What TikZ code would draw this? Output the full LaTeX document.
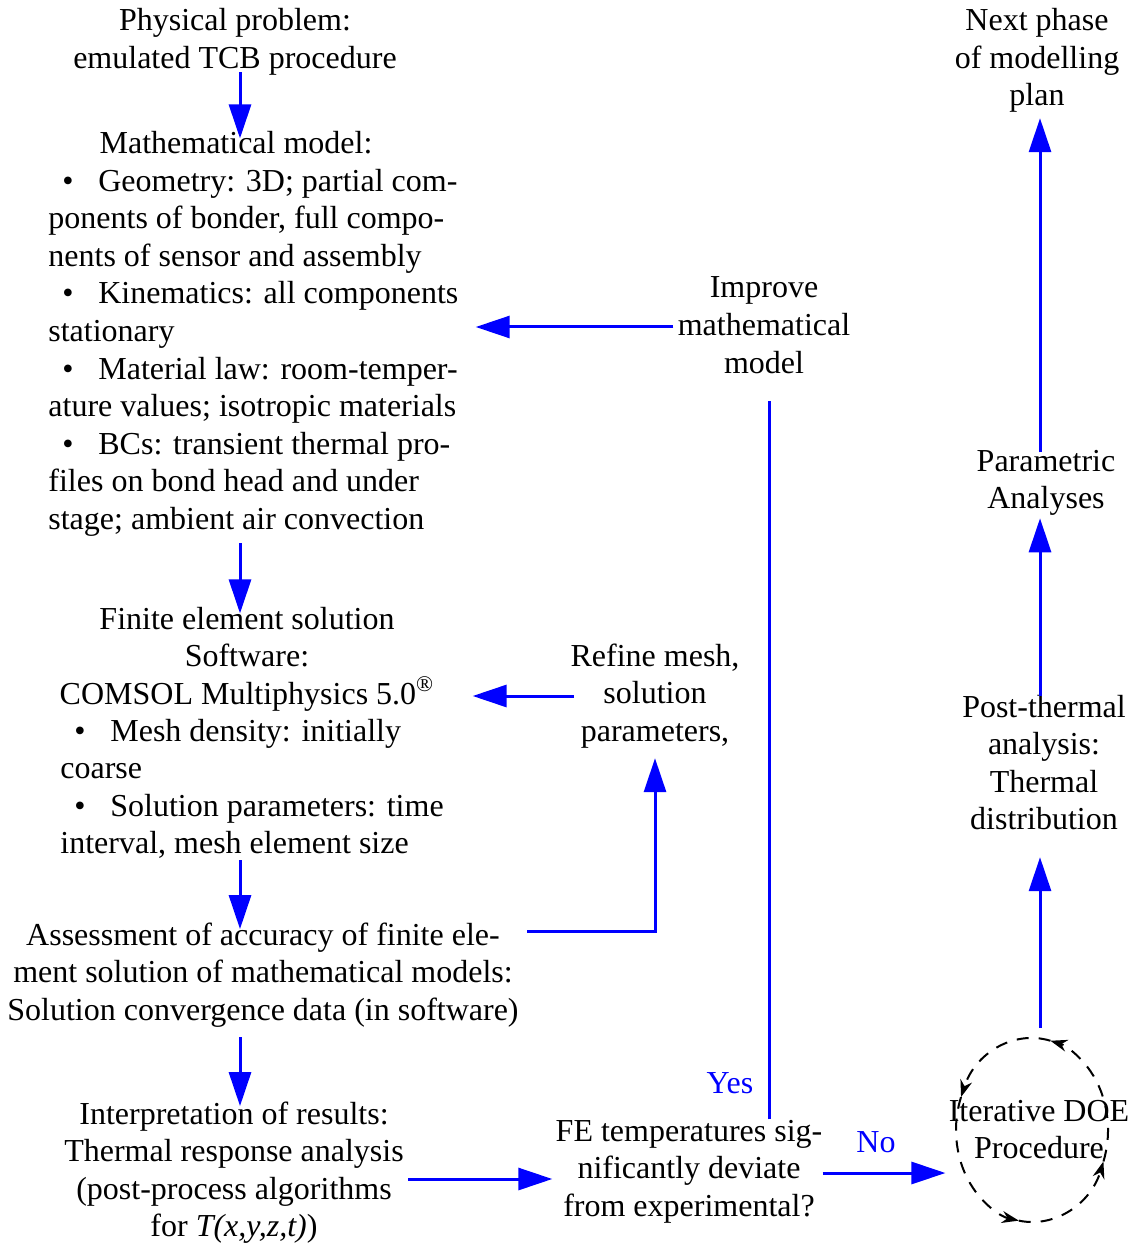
\documentclass[tikz,border=0pt]{standalone}
\usepackage{fontspec}
\setmainfont{Liberation Serif}
\usetikzlibrary{arrows.meta,shapes.geometric}
\newcommand{\bulletitem}{\makebox[25pt][l]{\hspace*{7pt}\textbullet}}

\begin{document}
\begin{tikzpicture}[x=0.5pt,y=-0.5pt,
    txt/.style={inner sep=0pt,align=center,anchor=base,
      font=\fontsize{16}{18.75}\selectfont},
    lst/.style={txt,align=left,anchor=base west},
    yn/.style={txt,text=blue},
    link/.style={draw=blue,line width=1.5pt},
    flow/.style={link,-{Triangle[length=17pt,width=11pt]}},
    cyc/.style={draw,line width=1pt,dash pattern=on 6pt off 5pt,
      -{Stealth[length=8.5pt,width=6pt]}}]
  \useasboundingbox (0,0) rectangle (1135,1245);
  \coordinate (colL) at (240,0);
  \coordinate (colY) at (769,0);
  \coordinate (colR) at (1040,0);
  \coordinate (rowB) at (0,931);
  \coordinate (rowC) at (0,696);
  \coordinate (rowD) at (0,327);
  \coordinate (rowE) at (0,1179);
  \coordinate (rowF) at (0,1173);

  \node[txt] (phys) at (235,68.5) {Physical problem:\\emulated TCB procedure};
  \node[txt] (math) at (236,154) {Mathematical model:};
  \node[lst] (mathlist) at (48,529) {\bulletitem Geometry: 3D; partial com-\\
    ponents of bonder, full compo-\\
    nents of sensor and assembly\\
    \bulletitem Kinematics: all components\\
    stationary\\
    \bulletitem Material law: room-temper-\\
    ature values; isotropic materials\\
    \bulletitem BCs: transient thermal pro-\\
    files on bond head and under\\
    stage; ambient air convection};
  \node[txt] (fehead) at (247,704) {Finite element solution\\Software:\\
    COMSOL Multiphysics 5.0\textsuperscript{\textregistered}};
  \node[lst] (felist) at (60,853.5) {\bulletitem Mesh density: initially\\
    coarse\\
    \bulletitem Solution parameters: time\\
    interval, mesh element size};
  \node[txt] (assess) at (263,1020) {Assessment of accuracy of finite ele-\\
    ment solution of mathematical models:\\
    Solution convergence data (in software)};
  \node[txt] (interp) at (234,1236.5) {Interpretation of results:\\
    Thermal response analysis\\(post-process algorithms\\
    for \textit{T(x,y,z,t)})};
  \node[txt] (fetemp) at (689,1216) {FE temperatures sig-\\
    nificantly deviate\\from experimental?};
  \node[txt] (improve) at (764,373) {Improve\\mathematical\\model};
  \node[txt] (refine) at (655,741) {Refine mesh,\\solution\\parameters,};
  \node[txt] (next) at (1037,106) {Next phase\\of modelling\\plan};
  \node[txt] (para) at (1046,508.5) {Parametric\\Analyses};
  \node[txt] (post) at (1044,829.5) {Post-thermal\\analysis:\\Thermal\\distribution};
  \node[txt] (doe) at (1039,1158.5) {Iterative DOE\\Procedure};
  \node[ellipse,minimum width=76pt,minimum height=92pt,inner sep=0pt] (loop) at (1032,1130) {};
  \node[yn] (yes) at (730,1093) {Yes};
  \node[yn] (no) at (876,1152) {No};

  \draw[flow,shorten <=-1.75pt,shorten >=-3.5pt] (phys.south -| colL) -- (math.north -| colL);
  \draw[flow,shorten <=3.5pt,shorten >=-3.5pt] (mathlist.south -| colL) -- (fehead.north -| colL);
  \draw[flow,shorten <=0.75pt,shorten >=-3.5pt] (felist.south -| colL) -- (assess.north -| colL);
  \draw[flow,shorten <=5pt,shorten >=-2.5pt] (assess.south -| colL) -- (interp.north -| colL);
  \draw[flow,shorten <=2pt,shorten >=1.5pt] (interp.east |- rowE) -- (fetemp.west |- rowE);
  \draw[flow,shorten >=1.5pt] (fetemp.east |- rowF) -- (doe.west |- rowF);
  \draw[link,shorten >=13.5pt] (fetemp.north -| colY) -- (improve.south -| colY);
  \draw[flow,shorten <=2pt,shorten >=8.5pt] (improve.west |- rowD) -- (mathlist.east |- rowD);
  \draw[flow,shorten <=4pt,shorten >=5pt] (assess.east |- rowB) -| (refine.south);
  \draw[flow,shorten <=-2pt,shorten >=19pt] (refine.west |- rowC) -- (fehead.east |- rowC);
  \draw[flow,shorten <=5pt,shorten >=13.5pt] (loop.north -| colR) -- (post.south -| colR);
  \draw[flow,shorten <=-1pt,shorten >=1.25pt] (post.north -| colR) -- (para.south -| colR);
  \draw[flow,shorten <=-1.5pt,shorten >=2.5pt] (para.north -| colR) -- (next.south -| colR);

  \foreach \a/\b in {-20/76,76/159,159/260,260/340}
    \draw[cyc] ([shift={(\a:38pt and 46pt)}]loop.center)
      arc[start angle=\a,end angle=\b,x radius=38pt,y radius=46pt];
\end{tikzpicture}
\end{document}
